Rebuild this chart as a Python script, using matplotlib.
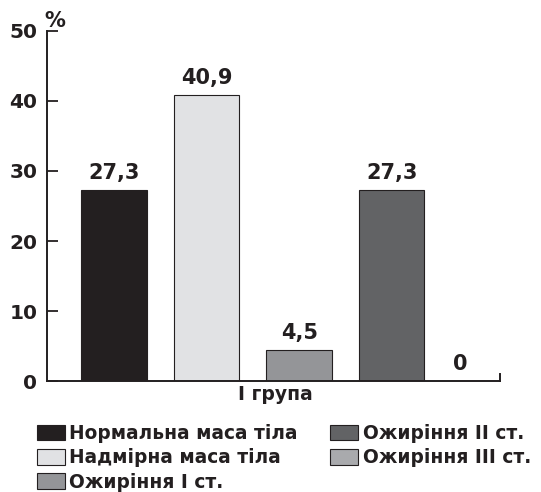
import matplotlib.pyplot as plt

plt.rcParams['font.family'] = ['DejaVu Sans']
plt.rcParams['font.weight'] = 'bold'

categories = ['Нормальна маса тіла', 'Надмірна маса тіла', 'Ожиріння І ст.',
              'Ожиріння ІІ ст.', 'Ожиріння ІІІ ст.']
values = [27.3, 40.9, 4.5, 27.3, 0]
value_labels = ['27,3', '40,9', '4,5', '27,3', '0']
colors = ['#231f20', '#e1e2e4', '#949598', '#626365', '#a9aaad']
group_label = 'І група'

fig = plt.figure(figsize=(5.41, 4.92), dpi=100)
ax = fig.add_axes([0.087, 0.2256, 0.837, 0.7114])

positions = list(range(len(values)))
ax.bar(positions, values, width=0.71, color=colors,
       edgecolor='#231f20', linewidth=0.8)

for i, (v, lab) in enumerate(zip(values, value_labels)):
    dx = -17 if v == 0 else 0
    ax.annotate(lab, (i, v), xytext=(dx, 5), textcoords='offset points',
                ha='center', va='bottom', fontsize=15, fontweight='bold',
                color='#231f20')

ax.set_xlim(-0.725, 4.17)
ax.set_ylim(0, 50)
ax.set_yticks([0, 10, 20, 30, 40, 50])
ax.tick_params(axis='y', direction='in', length=8, width=1.3, labelsize=14.5,
               pad=7, colors='#231f20')
ax.set_xticks([])
ax.spines['top'].set_visible(False)
ax.spines['right'].set_visible(False)
ax.spines['left'].set_linewidth(1.4)
ax.spines['bottom'].set_linewidth(1.4)
ax.spines['left'].set_color('#231f20')
ax.spines['bottom'].set_color('#231f20')
ax.plot([1, 1], [0, 0.02], transform=ax.transAxes, color='#231f20',
        linewidth=1.4, clip_on=False)
ax.text(-0.005, 1.0, '%', transform=ax.transAxes, fontsize=15, fontweight='bold',
        ha='left', va='bottom', color='#231f20')
ax.set_xlabel(group_label, fontsize=13.5, fontweight='bold', color='#231f20')
ax.xaxis.set_label_coords(0.505, -0.01, transform=ax.transAxes)
ax.xaxis.label.set_va('top')

handles = [plt.Rectangle((0, 0), 1, 1, facecolor=c, edgecolor='#231f20', linewidth=0.8)
           for c in colors]
leg = fig.legend(handles, categories, ncol=2, loc='upper left',
                 bbox_to_anchor=(0.068, 0.138), frameon=False, fontsize=13.4,
                 handlelength=1.5, handleheight=0.9, handletextpad=0.25,
                 columnspacing=1.75, labelspacing=0.28, borderaxespad=0, borderpad=0)
for t in leg.get_texts():
    t.set_color('#231f20')

fig.savefig('out.png', dpi=100)
